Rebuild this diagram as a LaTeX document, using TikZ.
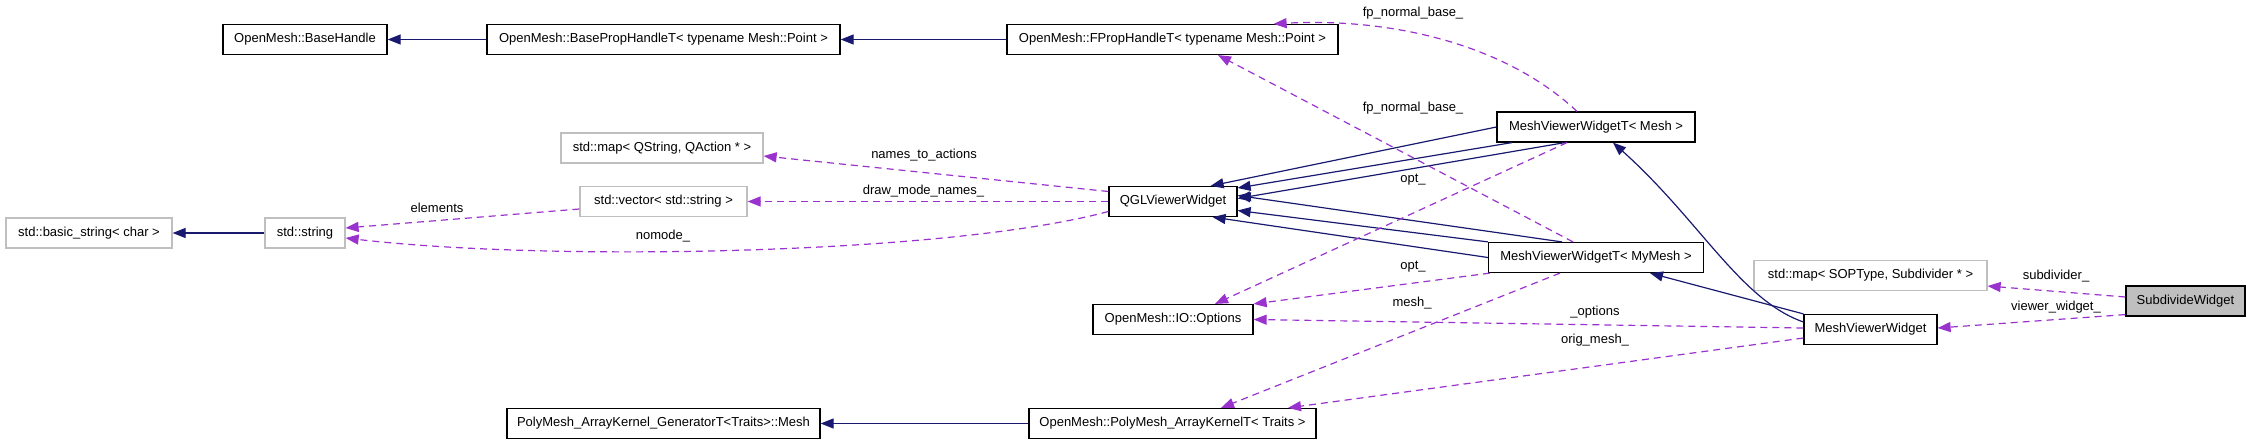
\documentclass[tikz,border=0pt]{standalone}
\usepackage{fontspec}
\setmainfont{Liberation Sans}
\usetikzlibrary{arrows.meta}
\definecolor{navy}{HTML}{191970}
\definecolor{orchid}{HTML}{9A32CD}
\definecolor{boxgray}{HTML}{BFBFBF}
\tikzset{
  cls/.style={draw=black, line width=1.2pt, minimum height=30pt, inner sep=0pt, font=\fontsize{13}{15}\selectfont},
  ext/.style={cls, draw=boxgray},
  inh/.style={draw=navy, line width=1.2pt, -{Triangle[length=13pt,width=10pt]}},
  use/.style={draw=orchid, line width=1.2pt, dash pattern=on 7pt off 5pt, -{Triangle[length=13pt,width=10pt]}},
  lbl/.style={inner sep=0pt, font=\fontsize{13}{15}\selectfont}
}
\begin{document}
\begin{tikzpicture}[x=1pt, y=-1pt]
		\useasboundingbox (0,0) rectangle (2251,444);
		% classes
		\node[cls, minimum width=164pt] (bh) at (305,39.5) {OpenMesh::BaseHandle};
		\node[cls, minimum width=353pt] (bph) at (663.5,39.5) {OpenMesh::BasePropHandleT< typename Mesh::Point >};
		\node[cls, minimum width=331pt] (fph) at (1172.5,39.5) {OpenMesh::FPropHandleT< typename Mesh::Point >};
		\node[cls, minimum width=198pt] (mvwtm) at (1596,127) {MeshViewerWidgetT< Mesh >};
		\node[ext, minimum width=202pt] (qmap) at (662,148) {std::map< QString, QAction * >};
		\node[ext, minimum width=167pt] (vec) at (663.5,201.5) {std::vector< std::string >};
		\node[ext, minimum width=166pt] (bstr) at (89,233) {std::basic\_string< char >};
		\node[ext, minimum width=80pt] (str) at (305,233) {std::string};
		\node[cls, minimum width=128pt] (qgl) at (1173,201.5) {QGLViewerWidget};
		\node[cls, minimum width=215pt] (mvwtmy) at (1596,257.5) {MeshViewerWidgetT< MyMesh >};
		\node[ext, minimum width=233pt] (smap) at (1870.5,275.5) {std::map< SOPType, Subdivider * >};
		\node[cls, fill=boxgray, minimum width=119pt] (sub) at (2185.5,301) {SubdivideWidget};
		\node[cls, minimum width=160pt] (opt) at (1173,319.5) {OpenMesh::IO::Options};
		\node[cls, minimum width=133pt] (mvw) at (1870.5,329.5) {MeshViewerWidget};
		\node[cls, minimum width=313pt] (gen) at (663.5,423.5) {PolyMesh\_ArrayKernel\_GeneratorT<Traits>::Mesh};
		\node[cls, minimum width=287pt] (pak) at (1172.5,423.5) {OpenMesh::PolyMesh\_ArrayKernelT< Traits >};
		% inheritance
		\draw[inh] (bph) -- (bh);
		\draw[inh] (fph) -- (bph);
		\draw[inh] (str) -- (bstr);
		\draw[inh] (pak) -- (gen);
		\draw[inh] (mvwtm.west) -- ([xshift=-27pt]qgl.north east);
		\draw[inh] ([xshift=-84pt]mvwtm.south) -- ([yshift=13.5pt]qgl.east);
		\draw[inh] ([xshift=-31pt]mvwtm.south) -- ([yshift=3pt]qgl.east);
		\draw[inh] ([xshift=-34pt]mvwtmy.north) -- ([yshift=6pt]qgl.east);
		\draw[inh] (mvwtmy.north west) -- ([yshift=-9pt]qgl.east);
		\draw[inh] (mvwtmy.west) -- ([xshift=-25pt]qgl.south east);
		\draw[inh] ([yshift=7.5pt]mvw.west) .. controls +(-63,-22) and +(87,78) .. ([xshift=17pt]mvwtm.south);
		\draw[inh] (mvw.north west) -- ([xshift=54pt]mvwtmy.south);
		% members
		\draw[use] ([xshift=-19pt]mvwtm.north) .. controls +(-77,-72) and +(107,-6) .. ([xshift=-65pt]fph.north east);
		\draw[use] ([xshift=-23pt]mvwtmy.north) -- ([xshift=45.5pt]fph.south);
		\draw[use] ([yshift=10pt]qgl.west) -- ([yshift=-8pt]qmap.east);
		\draw[use] (qgl.west) -- (vec.east);
		\draw[use] ([yshift=-7.5pt]vec.west) -- ([yshift=5pt]str.east);
		\draw[use] ([yshift=-10pt]qgl.west) .. controls +(-160,43) and +(205,24) .. ([yshift=-5pt]str.east);
		\draw[use] ([xshift=-29pt]mvwtm.south) -- ([xshift=42pt]opt.north);
		\draw[use] ([xshift=2pt]mvwtmy.south west) -- (opt.north east);
		\draw[use] ([xshift=-36pt]mvwtmy.south) -- ([xshift=48.5pt]pak.north);
		\draw[use] ([yshift=1.5pt]mvw.west) -- (opt.east);
		\draw[use] ([yshift=-8.5pt]mvw.west) -- ([xshift=115.5pt]pak.north);
		\draw[use] ([yshift=4pt]sub.west) -- ([yshift=-10.5pt]smap.east);
		\draw[use] ([yshift=2pt]sub.south west) -- ([yshift=1.5pt]mvw.east);
		% labels
		\node[lbl] (lfpa) at (1413,13) {fp\_normal\_base\_};
		\node[lbl] (lfpb) at (1413,108) {fp\_normal\_base\_};
		\node[lbl] (lnames) at (924,155) {names\_to\_actions};
		\node[lbl] (ldraw) at (923.5,191) {draw\_mode\_names\_};
		\node[lbl] (lelem) at (437,208) {elements};
		\node[lbl] (lnomode) at (663,236) {nomode\_};
		\node[lbl] (lopta) at (1413,180) {opt\_};
		\node[lbl] (loptb) at (1413,267) {opt\_};
		\node[lbl] (lmesh) at (1412,303) {mesh\_};
		\node[lbl] (loptions) at (1595,312) {\_options};
		\node[lbl] (lorig) at (1595,340) {orig\_mesh\_};
		\node[lbl] (lsubdiv) at (2056,276) {subdivider\_};
		\node[lbl] (lviewer) at (2056,307) {viewer\_widget\_};
\end{tikzpicture}
\end{document}
